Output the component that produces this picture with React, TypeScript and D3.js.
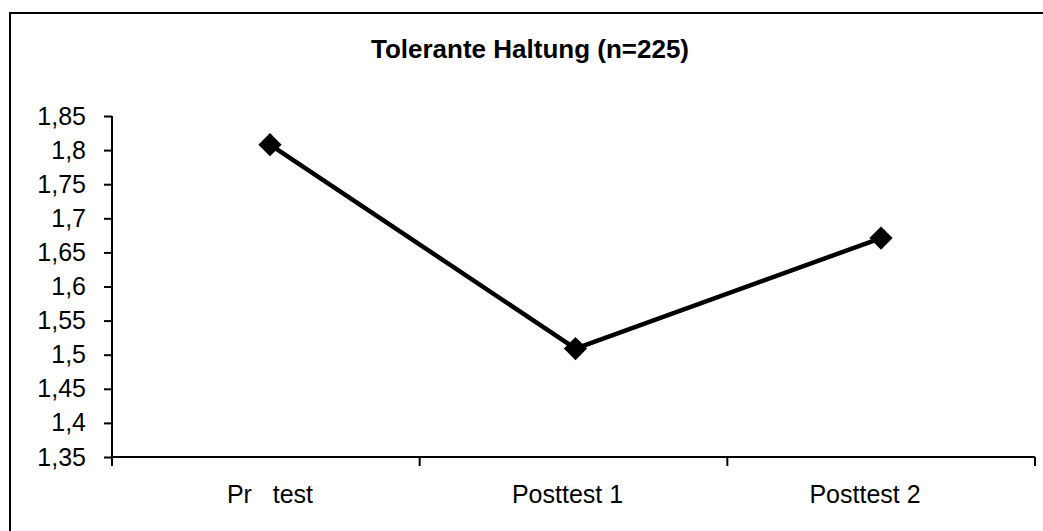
import React, { useEffect, useRef } from "react";
import * as d3 from "d3";

const categories: string[] = ["Pr   test", "Posttest 1", "Posttest 2"];
const values: number[] = [1.808, 1.509, 1.671];
const yTicks: number[] = [1.35, 1.4, 1.45, 1.5, 1.55, 1.6, 1.65, 1.7, 1.75, 1.8, 1.85];
const title = "Tolerante Haltung (n=225)";

const W = 1043;
const H = 531;
const FONT = "'Liberation Sans', Arial, sans-serif";

export default function App() {
  const ref = useRef<SVGSVGElement | null>(null);

  useEffect(() => {
    const svg = d3.select(ref.current);
    svg.selectAll("*").remove();

    const left = 112, right = 1035, top = 116, bottom = 457;
    const x = d3.scaleBand<string>().domain(categories).range([left, right]).padding(0);
    // marker and label placement (as rendered in the reference)
    const xPt = d3.scalePoint<string>().domain(categories).range([270, 881]);
    const xLab = d3.scalePoint<string>().domain(categories).range([270, 865]);
    const y = d3.scaleLinear().domain([1.35, 1.85]).range([bottom, top]);
    const fmt = (v: number) => d3.format(".2~f")(v).replace(".", ",");

    svg.append("rect").attr("x", 0).attr("y", 0).attr("width", W).attr("height", H).attr("fill", "#fff");

    // outer frame (left and top visible)
    svg.append("path")
      .attr("d", `M10,${H} L10,13 L${W},13`)
      .attr("fill", "none").attr("stroke", "#000").attr("stroke-width", 2);

    svg.append("text")
      .attr("x", 530).attr("y", 58)
      .attr("text-anchor", "middle")
      .attr("font-family", FONT).attr("font-size", 26).attr("font-weight", "bold")
      .text(title);

    // y axis
    const yAxis = d3.axisLeft(y).tickValues(yTicks).tickFormat((d) => fmt(d as number)).tickSize(8).tickPadding(18);
    const gy = svg.append("g").attr("transform", `translate(${left},0)`).call(yAxis);
    gy.select(".domain").attr("stroke", "#000").attr("stroke-width", 2).attr("d", `M0,${top}V${bottom}`);
    gy.selectAll(".tick line").attr("stroke", "#000").attr("stroke-width", 2);
    gy.selectAll(".tick text").attr("fill", "#000").attr("font-family", FONT).attr("font-size", 25);

    // x axis
    const gx = svg.append("g").attr("transform", `translate(0,${bottom})`);
    gx.append("line").attr("x1", left).attr("x2", right).attr("y1", 0).attr("y2", 0)
      .attr("stroke", "#000").attr("stroke-width", 2);
    const edges = [...categories.map((c) => x(c) as number), right];
    gx.selectAll("line.tk").data(edges).enter().append("line").attr("class", "tk")
      .attr("x1", (d) => d).attr("x2", (d) => d).attr("y1", 0).attr("y2", 9)
      .attr("stroke", "#000").attr("stroke-width", 2);
    gx.selectAll("text").data(categories).enter().append("text")
      .attr("x", (d) => xLab(d) as number)
      .attr("y", 46)
      .attr("text-anchor", "middle")
      .attr("font-family", FONT).attr("font-size", 25)
      .style("white-space", "pre")
      .text((d) => d);

    const cx = (i: number) => xPt(categories[i]) as number;
    const line = d3.line<number>().x((_, i) => cx(i)).y((d) => y(d));
    svg.append("path").datum(values).attr("d", line)
      .attr("fill", "none").attr("stroke", "#000").attr("stroke-width", 4.5).attr("stroke-linejoin", "round");

    const sym = d3.symbol().type(d3.symbolSquare).size(270);
    svg.selectAll("path.pt").data(values).enter().append("path").attr("class", "pt")
      .attr("d", sym as any)
      .attr("transform", (d, i) => `translate(${cx(i)},${y(d)}) rotate(45)`)
      .attr("fill", "#000");
  }, []);

  return (
    <svg ref={ref} width={W} height={H}
      style={{ position: "absolute", left: 0, top: 0, display: "block" }} />
  );
}
